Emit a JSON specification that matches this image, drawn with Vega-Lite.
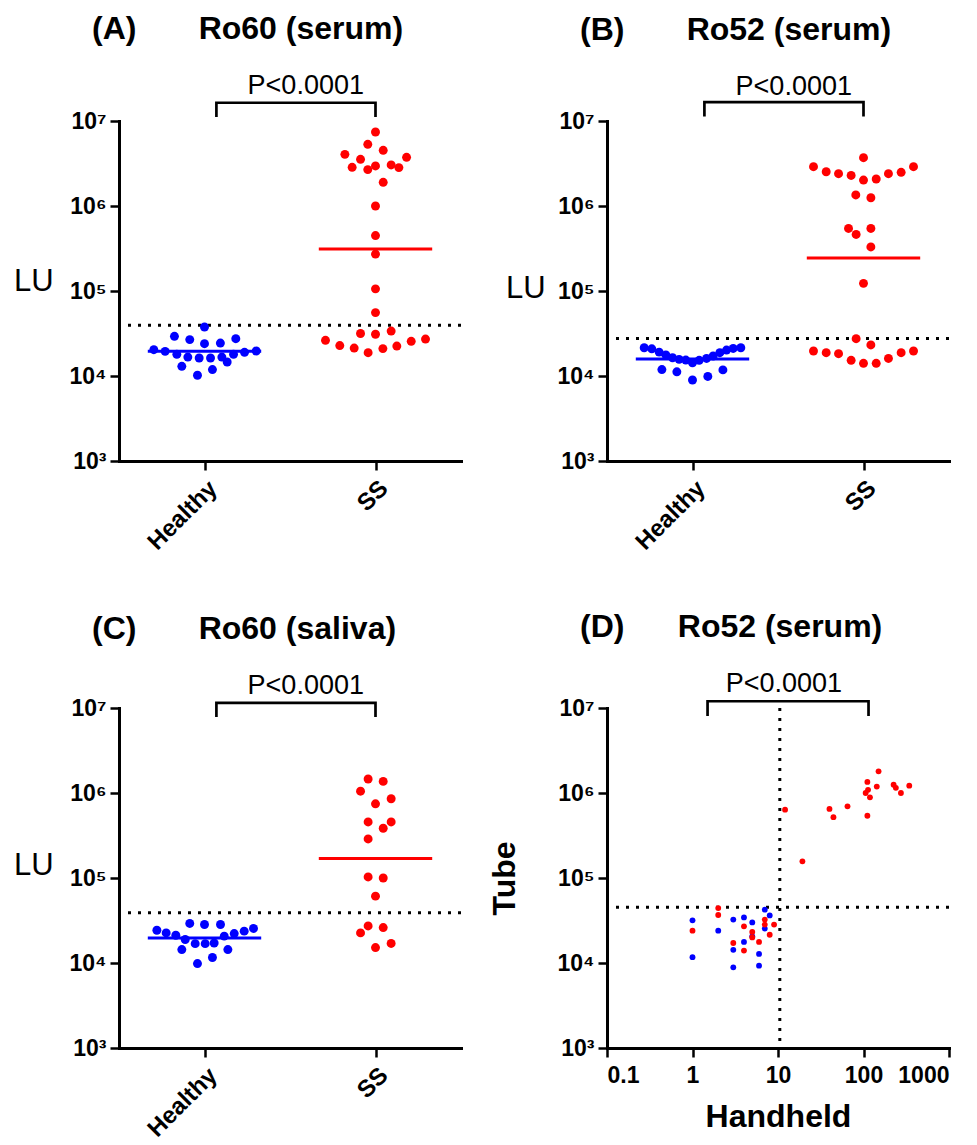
{
  "$schema": "https://vega.github.io/schema/vega-lite/v6.json",
  "padding": {"left": 13, "top": 13, "right": 5, "bottom": 5},
  "columns": 2,
  "spacing": {"row": 56, "column": 25},
  "datasets": {
    "dots": [
      {"p":"A","g":"Healthy","s":0,"v":37700},{"p":"A","g":"Healthy","s":-2.65,"v":29300},{"p":"A","g":"Healthy","s":-1.3,"v":26800},{"p":"A","g":"Healthy","s":0,"v":24000},{"p":"A","g":"Healthy","s":1.4,"v":24400},{"p":"A","g":"Healthy","s":2.76,"v":27500},{"p":"A","g":"Healthy","s":-4.47,"v":20400},{"p":"A","g":"Healthy","s":-3.47,"v":19500},{"p":"A","g":"Healthy","s":-2.44,"v":18000},{"p":"A","g":"Healthy","s":-1.47,"v":16700},{"p":"A","g":"Healthy","s":-0.47,"v":16300},{"p":"A","g":"Healthy","s":0.53,"v":16300},{"p":"A","g":"Healthy","s":1.53,"v":16700},{"p":"A","g":"Healthy","s":2.56,"v":18000},{"p":"A","g":"Healthy","s":3.53,"v":19000},{"p":"A","g":"Healthy","s":4.56,"v":19700},{"p":"A","g":"Healthy","s":-2,"v":13000},{"p":"A","g":"Healthy","s":0.7,"v":11900},{"p":"A","g":"Healthy","s":2,"v":14600},{"p":"A","g":"Healthy","s":-0.62,"v":10200},
      {"p":"A","g":"SS","s":0,"v":7430000},{"p":"A","g":"SS","s":-0.68,"v":5320000},{"p":"A","g":"SS","s":0.68,"v":4520000},{"p":"A","g":"SS","s":-2.7,"v":4050000},{"p":"A","g":"SS","s":-1.32,"v":3540000},{"p":"A","g":"SS","s":2.74,"v":3740000},{"p":"A","g":"SS","s":-2.06,"v":2850000},{"p":"A","g":"SS","s":0,"v":2960000},{"p":"A","g":"SS","s":-0.68,"v":2680000},{"p":"A","g":"SS","s":1.38,"v":3040000},{"p":"A","g":"SS","s":2.06,"v":2830000},{"p":"A","g":"SS","s":0.68,"v":1900000},{"p":"A","g":"SS","s":0,"v":1000000},{"p":"A","g":"SS","s":0,"v":449000},{"p":"A","g":"SS","s":0,"v":272000},{"p":"A","g":"SS","s":0,"v":106000},{"p":"A","g":"SS","s":0,"v":55700},{"p":"A","g":"SS","s":-1.32,"v":31600},{"p":"A","g":"SS","s":0,"v":31000},{"p":"A","g":"SS","s":1.38,"v":33800},{"p":"A","g":"SS","s":-4.41,"v":26300},{"p":"A","g":"SS","s":-3.15,"v":22800},{"p":"A","g":"SS","s":-1.88,"v":21300},{"p":"A","g":"SS","s":-0.65,"v":18800},{"p":"A","g":"SS","s":0.65,"v":21000},{"p":"A","g":"SS","s":1.88,"v":22500},{"p":"A","g":"SS","s":3.15,"v":25600},{"p":"A","g":"SS","s":4.41,"v":27200},
      {"p":"B","g":"Healthy","s":-4.26,"v":21500},{"p":"B","g":"Healthy","s":-3.59,"v":20900},{"p":"B","g":"Healthy","s":-2.94,"v":19100},{"p":"B","g":"Healthy","s":-2.35,"v":17700},{"p":"B","g":"Healthy","s":-1.76,"v":16400},{"p":"B","g":"Healthy","s":-1.18,"v":15700},{"p":"B","g":"Healthy","s":-0.59,"v":15400},{"p":"B","g":"Healthy","s":0,"v":14300},{"p":"B","g":"Healthy","s":0.59,"v":15300},{"p":"B","g":"Healthy","s":1.24,"v":16100},{"p":"B","g":"Healthy","s":1.82,"v":17200},{"p":"B","g":"Healthy","s":2.41,"v":18800},{"p":"B","g":"Healthy","s":3.0,"v":20200},{"p":"B","g":"Healthy","s":3.59,"v":21100},{"p":"B","g":"Healthy","s":4.26,"v":21500},{"p":"B","g":"Healthy","s":-2.7,"v":11900},{"p":"B","g":"Healthy","s":-1.38,"v":11200},{"p":"B","g":"Healthy","s":0,"v":8970},{"p":"B","g":"Healthy","s":1.35,"v":9890},{"p":"B","g":"Healthy","s":2.68,"v":11800},
      {"p":"B","g":"SS","s":0,"v":3700000},{"p":"B","g":"SS","s":-4.41,"v":2900000},{"p":"B","g":"SS","s":-3.29,"v":2530000},{"p":"B","g":"SS","s":-2.2,"v":2400000},{"p":"B","g":"SS","s":-1.09,"v":2290000},{"p":"B","g":"SS","s":0,"v":2020000},{"p":"B","g":"SS","s":1.12,"v":2080000},{"p":"B","g":"SS","s":2.2,"v":2400000},{"p":"B","g":"SS","s":3.32,"v":2490000},{"p":"B","g":"SS","s":4.41,"v":2900000},{"p":"B","g":"SS","s":-0.68,"v":1350000},{"p":"B","g":"SS","s":0.65,"v":1250000},{"p":"B","g":"SS","s":-1.32,"v":545000},{"p":"B","g":"SS","s":-0.65,"v":463000},{"p":"B","g":"SS","s":0.65,"v":545000},{"p":"B","g":"SS","s":0.65,"v":330000},{"p":"B","g":"SS","s":0,"v":123000},{"p":"B","g":"SS","s":-0.65,"v":27500},{"p":"B","g":"SS","s":0.65,"v":23200},{"p":"B","g":"SS","s":-4.41,"v":19700},{"p":"B","g":"SS","s":-3.29,"v":18800},{"p":"B","g":"SS","s":-2.2,"v":18300},{"p":"B","g":"SS","s":-1.09,"v":15300},{"p":"B","g":"SS","s":0,"v":14100},{"p":"B","g":"SS","s":1.12,"v":14100},{"p":"B","g":"SS","s":2.2,"v":16100},{"p":"B","g":"SS","s":3.32,"v":18800},{"p":"B","g":"SS","s":4.41,"v":19700},
      {"p":"C","g":"Healthy","s":-4.2,"v":24300},{"p":"C","g":"Healthy","s":-3.38,"v":22600},{"p":"C","g":"Healthy","s":-2.53,"v":21200},{"p":"C","g":"Healthy","s":-1.7,"v":18900},{"p":"C","g":"Healthy","s":-0.82,"v":16900},{"p":"C","g":"Healthy","s":0.06,"v":16900},{"p":"C","g":"Healthy","s":0.85,"v":17200},{"p":"C","g":"Healthy","s":1.74,"v":20700},{"p":"C","g":"Healthy","s":2.62,"v":22200},{"p":"C","g":"Healthy","s":3.5,"v":23700},{"p":"C","g":"Healthy","s":4.32,"v":25500},{"p":"C","g":"Healthy","s":-1.3,"v":29200},{"p":"C","g":"Healthy","s":0,"v":28400},{"p":"C","g":"Healthy","s":1.41,"v":28400},{"p":"C","g":"Healthy","s":-2,"v":14400},{"p":"C","g":"Healthy","s":2.06,"v":14400},{"p":"C","g":"Healthy","s":0.7,"v":11600},{"p":"C","g":"Healthy","s":-0.62,"v":9840},
      {"p":"C","g":"SS","s":-0.65,"v":1460000},{"p":"C","g":"SS","s":0.68,"v":1370000},{"p":"C","g":"SS","s":-1.32,"v":1050000},{"p":"C","g":"SS","s":1.38,"v":855000},{"p":"C","g":"SS","s":0,"v":746000},{"p":"C","g":"SS","s":-0.65,"v":457000},{"p":"C","g":"SS","s":1.38,"v":457000},{"p":"C","g":"SS","s":0.68,"v":385000},{"p":"C","g":"SS","s":-0.65,"v":288000},{"p":"C","g":"SS","s":-0.65,"v":103000},{"p":"C","g":"SS","s":0.68,"v":100000},{"p":"C","g":"SS","s":0,"v":61200},{"p":"C","g":"SS","s":-0.65,"v":27300},{"p":"C","g":"SS","s":0.68,"v":26100},{"p":"C","g":"SS","s":-1.32,"v":22600},{"p":"C","g":"SS","s":1.38,"v":17000},{"p":"C","g":"SS","s":0,"v":15200}
    ],
    "medians": [
      {"p":"A","g":"Healthy","s":-5,"v":19500},{"p":"A","g":"Healthy","s":5,"v":19500},{"p":"A","g":"SS","s":-5,"v":312000},{"p":"A","g":"SS","s":5,"v":312000},
      {"p":"B","g":"Healthy","s":-5,"v":15800},{"p":"B","g":"Healthy","s":5,"v":15800},{"p":"B","g":"SS","s":-5,"v":245000},{"p":"B","g":"SS","s":5,"v":245000},
      {"p":"C","g":"Healthy","s":-5,"v":19700},{"p":"C","g":"Healthy","s":5,"v":19700},{"p":"C","g":"SS","s":-5,"v":170000},{"p":"C","g":"SS","s":5,"v":170000}
    ],
    "cuts": [{"p":"A","v":39500},{"p":"B","v":27700},{"p":"C","v":38900},{"p":"D","v":45400}],
    "brackets": [
      {"p":"A","g":"Healthy","s":1.05,"v":11140000,"k":0},{"p":"A","g":"Healthy","s":1.05,"v":16400000,"k":1},{"p":"A","g":"SS","s":0,"v":16400000,"k":2},{"p":"A","g":"SS","s":0,"v":11140000,"k":3},
      {"p":"B","g":"Healthy","s":1.05,"v":11260000,"k":0},{"p":"B","g":"Healthy","s":1.05,"v":16700000,"k":1},{"p":"B","g":"SS","s":0,"v":16700000,"k":2},{"p":"B","g":"SS","s":0,"v":11260000,"k":3},
      {"p":"C","g":"Healthy","s":1.05,"v":7830000,"k":0},{"p":"C","g":"Healthy","s":1.05,"v":11460000,"k":1},{"p":"C","g":"SS","s":0,"v":11460000,"k":2},{"p":"C","g":"SS","s":0,"v":7830000,"k":3}
    ],
    "pvals": [
      {"p":"A","g":"SS","s":-6.15,"v":20600000,"t":"P<0.0001"},
      {"p":"B","g":"SS","s":-6.15,"v":20500000,"t":"P<0.0001"},
      {"p":"C","g":"SS","s":-6.15,"v":14750000,"t":"P<0.0001"}
    ],
    "scatter": [
      {"g":"Healthy","h":1,"t":31800},{"g":"Healthy","h":1,"t":11700},{"g":"Healthy","h":2,"t":24000},{"g":"Healthy","h":3,"t":32400},{"g":"Healthy","h":3,"t":14300},{"g":"Healthy","h":3,"t":8900},{"g":"Healthy","h":4,"t":34400},{"g":"Healthy","h":4,"t":17700},{"g":"Healthy","h":5,"t":30000},{"g":"Healthy","h":5,"t":20600},{"g":"Healthy","h":6,"t":12800},{"g":"Healthy","h":6,"t":9300},{"g":"Healthy","h":7,"t":42400},{"g":"Healthy","h":8,"t":36300},{"g":"Healthy","h":7,"t":25400},
      {"g":"SS","h":150,"t":1800000},{"g":"SS","h":111,"t":1350000},{"g":"SS","h":143,"t":1190000},{"g":"SS","h":225,"t":1250000},{"g":"SS","h":239,"t":1150000},{"g":"SS","h":343,"t":1220000},{"g":"SS","h":274,"t":1000000},{"g":"SS","h":106,"t":1000000},{"g":"SS","h":113,"t":1090000},{"g":"SS","h":119,"t":890000},{"g":"SS","h":111,"t":540000},{"g":"SS","h":65,"t":697000},{"g":"SS","h":40,"t":650000},{"g":"SS","h":44.5,"t":520000},{"g":"SS","h":12.1,"t":637000},{"g":"SS","h":19.3,"t":157000},{"g":"SS","h":2,"t":44300},{"g":"SS","h":2,"t":36700},{"g":"SS","h":1,"t":24000},{"g":"SS","h":4,"t":27000},{"g":"SS","h":3,"t":17200},{"g":"SS","h":4,"t":14000},{"g":"SS","h":5,"t":23200},{"g":"SS","h":5,"t":20000},{"g":"SS","h":6,"t":17700},{"g":"SS","h":7,"t":32400},{"g":"SS","h":7,"t":28300},{"g":"SS","h":9,"t":28300},{"g":"SS","h":8,"t":21500}
    ],
    "dvcut": [{"h":10.5}],
    "dbracket": [{"h":1.5,"t":8050000,"k":0},{"h":1.5,"t":12000000,"k":1},{"h":114.5,"t":12000000,"k":2},{"h":114.5,"t":8050000,"k":3}],
    "dp": [{"h":11.7,"t":15400000,"label":"P<0.0001"}]
  },
  "concat": [
    {
      "width": 342, "height": 340,
      "title": {"text": "(A)\u00a0\u00a0\u00a0\u00a0\u00a0\u00a0\u00a0Ro60 (serum)"},
      "layer": [
        {"data":{"name":"cuts"},"transform":[{"filter":"datum.p=='A'"}],"mark":{"type":"rule","strokeDash":[3,7],"strokeWidth":3,"color":"black"},
         "encoding":{"y":{"field":"v","type":"quantitative","scale":{"type":"log","domain":[1000,10000000],"nice":false},"axis":{"values":[1000,10000,100000,1000000,10000000],"labelExpr":"datum.value==10000000?'10⁷':datum.value==1000000?'10⁶':datum.value==100000?'10⁵':datum.value==10000?'10⁴':'10³'","title":"LU","titleAngle":0,"titleAlign":"right","titleBaseline":"middle","titleFontWeight":"normal","titleFontSize":31,"titlePadding":16,"titleY":160}}}},
        {"data":{"name":"dots"},"transform":[{"filter":"datum.p=='A'"}],"mark":{"type":"circle","size":80,"opacity":1},
         "encoding":{"x":{"field":"g","type":"nominal","scale":{"type":"point","padding":0.5,"domain":["Healthy","SS"]},"axis":{"title":null,"labelAngle":-45,"labelFontSize":24,"labelPadding":6}},
          "xOffset":{"field":"s","type":"quantitative","scale":{"domain":[-10,10],"range":[-113.4,113.4]}},
          "y":{"field":"v","type":"quantitative","scale":{"type":"log","domain":[1000,10000000],"nice":false}},
          "color":{"field":"g","type":"nominal","scale":{"domain":["Healthy","SS"],"range":["#0000ff","#ff0000"]},"legend":null}}},
        {"data":{"name":"medians"},"transform":[{"filter":"datum.p=='A'"}],"mark":{"type":"line","strokeWidth":3,"strokeCap":"butt"},
         "encoding":{"x":{"field":"g","type":"nominal","scale":{"type":"point","padding":0.5,"domain":["Healthy","SS"]}},
          "xOffset":{"field":"s","type":"quantitative","scale":{"domain":[-10,10],"range":[-113.4,113.4]}},
          "y":{"field":"v","type":"quantitative","scale":{"type":"log","domain":[1000,10000000],"nice":false}},
          "color":{"field":"g","type":"nominal","scale":{"domain":["Healthy","SS"],"range":["#0000ff","#ff0000"]},"legend":null}}},
        {"data":{"name":"brackets"},"transform":[{"filter":"datum.p=='A'"}],"mark":{"type":"line","strokeWidth":2.7,"color":"black","strokeCap":"butt","strokeJoin":"miter"},
         "encoding":{"x":{"field":"g","type":"nominal","scale":{"type":"point","padding":0.5,"domain":["Healthy","SS"]}},
          "xOffset":{"field":"s","type":"quantitative","scale":{"domain":[-10,10],"range":[-113.4,113.4]}},
          "y":{"field":"v","type":"quantitative","scale":{"type":"log","domain":[1000,10000000],"nice":false}},
          "order":{"field":"k","type":"quantitative"}}},
        {"data":{"name":"pvals"},"transform":[{"filter":"datum.p=='A'"}],"mark":{"type":"text","fontSize":27,"font":"Liberation Sans","align":"center","baseline":"alphabetic","color":"black"},
         "encoding":{"x":{"field":"g","type":"nominal","scale":{"type":"point","padding":0.5,"domain":["Healthy","SS"]}},
          "xOffset":{"field":"s","type":"quantitative","scale":{"domain":[-10,10],"range":[-113.4,113.4]}},
          "y":{"field":"v","type":"quantitative","scale":{"type":"log","domain":[1000,10000000],"nice":false}},
          "text":{"field":"t"}}}
      ]
    },
    {
      "width": 342, "height": 340,
      "title": {"text": "(B)\u00a0\u00a0\u00a0\u00a0\u00a0\u00a0\u00a0Ro52 (serum)"},
      "layer": [
        {"data":{"name":"cuts"},"transform":[{"filter":"datum.p=='B'"}],"mark":{"type":"rule","strokeDash":[3,7],"strokeWidth":3,"color":"black"},
         "encoding":{"y":{"field":"v","type":"quantitative","scale":{"type":"log","domain":[1000,10000000],"nice":false},"axis":{"values":[1000,10000,100000,1000000,10000000],"labelExpr":"datum.value==10000000?'10⁷':datum.value==1000000?'10⁶':datum.value==100000?'10⁵':datum.value==10000?'10⁴':'10³'","title":"LU","titleAngle":0,"titleAlign":"right","titleBaseline":"middle","titleFontWeight":"normal","titleFontSize":31,"titlePadding":12,"titleY":167}}}},
        {"data":{"name":"dots"},"transform":[{"filter":"datum.p=='B'"}],"mark":{"type":"circle","size":80,"opacity":1},
         "encoding":{"x":{"field":"g","type":"nominal","scale":{"type":"point","padding":0.5,"domain":["Healthy","SS"]},"axis":{"title":null,"labelAngle":-45,"labelFontSize":24,"labelPadding":6}},
          "xOffset":{"field":"s","type":"quantitative","scale":{"domain":[-10,10],"range":[-113.4,113.4]}},
          "y":{"field":"v","type":"quantitative","scale":{"type":"log","domain":[1000,10000000],"nice":false}},
          "color":{"field":"g","type":"nominal","scale":{"domain":["Healthy","SS"],"range":["#0000ff","#ff0000"]},"legend":null}}},
        {"data":{"name":"medians"},"transform":[{"filter":"datum.p=='B'"}],"mark":{"type":"line","strokeWidth":3,"strokeCap":"butt"},
         "encoding":{"x":{"field":"g","type":"nominal","scale":{"type":"point","padding":0.5,"domain":["Healthy","SS"]}},
          "xOffset":{"field":"s","type":"quantitative","scale":{"domain":[-10,10],"range":[-113.4,113.4]}},
          "y":{"field":"v","type":"quantitative","scale":{"type":"log","domain":[1000,10000000],"nice":false}},
          "color":{"field":"g","type":"nominal","scale":{"domain":["Healthy","SS"],"range":["#0000ff","#f04848"]},"legend":null}}},
        {"data":{"name":"brackets"},"transform":[{"filter":"datum.p=='B'"}],"mark":{"type":"line","strokeWidth":2.7,"color":"black","strokeCap":"butt","strokeJoin":"miter"},
         "encoding":{"x":{"field":"g","type":"nominal","scale":{"type":"point","padding":0.5,"domain":["Healthy","SS"]}},
          "xOffset":{"field":"s","type":"quantitative","scale":{"domain":[-10,10],"range":[-113.4,113.4]}},
          "y":{"field":"v","type":"quantitative","scale":{"type":"log","domain":[1000,10000000],"nice":false}},
          "order":{"field":"k","type":"quantitative"}}},
        {"data":{"name":"pvals"},"transform":[{"filter":"datum.p=='B'"}],"mark":{"type":"text","fontSize":27,"font":"Liberation Sans","align":"center","baseline":"alphabetic","color":"black"},
         "encoding":{"x":{"field":"g","type":"nominal","scale":{"type":"point","padding":0.5,"domain":["Healthy","SS"]}},
          "xOffset":{"field":"s","type":"quantitative","scale":{"domain":[-10,10],"range":[-113.4,113.4]}},
          "y":{"field":"v","type":"quantitative","scale":{"type":"log","domain":[1000,10000000],"nice":false}},
          "text":{"field":"t"}}}
      ]
    },
    {
      "width": 342, "height": 340,
      "title": {"text": "(C)\u00a0\u00a0\u00a0\u00a0\u00a0\u00a0\u00a0Ro60 (saliva)"},
      "layer": [
        {"data":{"name":"cuts"},"transform":[{"filter":"datum.p=='C'"}],"mark":{"type":"rule","strokeDash":[3,7],"strokeWidth":3,"color":"black"},
         "encoding":{"y":{"field":"v","type":"quantitative","scale":{"type":"log","domain":[1000,10000000],"nice":false},"axis":{"values":[1000,10000,100000,1000000,10000000],"labelExpr":"datum.value==10000000?'10⁷':datum.value==1000000?'10⁶':datum.value==100000?'10⁵':datum.value==10000?'10⁴':'10³'","title":"LU","titleAngle":0,"titleAlign":"right","titleBaseline":"middle","titleFontWeight":"normal","titleFontSize":31,"titlePadding":16,"titleY":157}}}},
        {"data":{"name":"dots"},"transform":[{"filter":"datum.p=='C'"}],"mark":{"type":"circle","size":80,"opacity":1},
         "encoding":{"x":{"field":"g","type":"nominal","scale":{"type":"point","padding":0.5,"domain":["Healthy","SS"]},"axis":{"title":null,"labelAngle":-45,"labelFontSize":24,"labelPadding":6}},
          "xOffset":{"field":"s","type":"quantitative","scale":{"domain":[-10,10],"range":[-113.4,113.4]}},
          "y":{"field":"v","type":"quantitative","scale":{"type":"log","domain":[1000,10000000],"nice":false}},
          "color":{"field":"g","type":"nominal","scale":{"domain":["Healthy","SS"],"range":["#0000ff","#ff0000"]},"legend":null}}},
        {"data":{"name":"medians"},"transform":[{"filter":"datum.p=='C'"}],"mark":{"type":"line","strokeWidth":3,"strokeCap":"butt"},
         "encoding":{"x":{"field":"g","type":"nominal","scale":{"type":"point","padding":0.5,"domain":["Healthy","SS"]}},
          "xOffset":{"field":"s","type":"quantitative","scale":{"domain":[-10,10],"range":[-113.4,113.4]}},
          "y":{"field":"v","type":"quantitative","scale":{"type":"log","domain":[1000,10000000],"nice":false}},
          "color":{"field":"g","type":"nominal","scale":{"domain":["Healthy","SS"],"range":["#0000ff","#ff0000"]},"legend":null}}},
        {"data":{"name":"brackets"},"transform":[{"filter":"datum.p=='C'"}],"mark":{"type":"line","strokeWidth":2.7,"color":"black","strokeCap":"butt","strokeJoin":"miter"},
         "encoding":{"x":{"field":"g","type":"nominal","scale":{"type":"point","padding":0.5,"domain":["Healthy","SS"]}},
          "xOffset":{"field":"s","type":"quantitative","scale":{"domain":[-10,10],"range":[-113.4,113.4]}},
          "y":{"field":"v","type":"quantitative","scale":{"type":"log","domain":[1000,10000000],"nice":false}},
          "order":{"field":"k","type":"quantitative"}}},
        {"data":{"name":"pvals"},"transform":[{"filter":"datum.p=='C'"}],"mark":{"type":"text","fontSize":27,"font":"Liberation Sans","align":"center","baseline":"alphabetic","color":"black"},
         "encoding":{"x":{"field":"g","type":"nominal","scale":{"type":"point","padding":0.5,"domain":["Healthy","SS"]}},
          "xOffset":{"field":"s","type":"quantitative","scale":{"domain":[-10,10],"range":[-113.4,113.4]}},
          "y":{"field":"v","type":"quantitative","scale":{"type":"log","domain":[1000,10000000],"nice":false}},
          "text":{"field":"t"}}}
      ]
    },
    {
      "width": 342, "height": 340,
      "title": {"text": "(D)\u00a0\u00a0\u00a0\u00a0\u00a0\u00a0Ro52 (serum)"},
      "layer": [
        {"data":{"name":"cuts"},"transform":[{"filter":"datum.p=='D'"}],"mark":{"type":"rule","strokeDash":[3,7],"strokeWidth":3,"color":"black"},
         "encoding":{"y":{"field":"v","type":"quantitative","scale":{"type":"log","domain":[1000,10000000],"nice":false},"axis":{"values":[1000,10000,100000,1000000,10000000],"labelExpr":"datum.value==10000000?'10⁷':datum.value==1000000?'10⁶':datum.value==100000?'10⁵':datum.value==10000?'10⁴':'10³'","title":"Tube","titleFontSize":32,"titlePadding":36}}}},
        {"data":{"name":"dvcut"},"mark":{"type":"rule","strokeDash":[3,7],"strokeWidth":3,"color":"black"},
         "encoding":{"x":{"field":"h","type":"quantitative","scale":{"type":"log","domain":[0.1,1000],"nice":false},"axis":{"values":[0.1,1,10,100,1000],"format":"~g","title":"Handheld","titleFontSize":32,"titlePadding":14,"labelAngle":0,"labelPadding":7}}}},
        {"data":{"name":"scatter"},"mark":{"type":"circle","size":34,"opacity":1},
         "encoding":{"x":{"field":"h","type":"quantitative","scale":{"type":"log","domain":[0.1,1000],"nice":false}},
          "y":{"field":"t","type":"quantitative","scale":{"type":"log","domain":[1000,10000000],"nice":false}},
          "color":{"field":"g","type":"nominal","scale":{"domain":["Healthy","SS"],"range":["#4040ff","#ff0000"]},"legend":null}}},
        {"data":{"name":"dbracket"},"mark":{"type":"line","strokeWidth":2.7,"color":"black","strokeCap":"butt","strokeJoin":"miter"},
         "encoding":{"x":{"field":"h","type":"quantitative","scale":{"type":"log","domain":[0.1,1000],"nice":false}},
          "y":{"field":"t","type":"quantitative","scale":{"type":"log","domain":[1000,10000000],"nice":false}},
          "order":{"field":"k","type":"quantitative"}}},
        {"data":{"name":"dp"},"mark":{"type":"text","fontSize":27,"font":"Liberation Sans","align":"center","baseline":"alphabetic","color":"black"},
         "encoding":{"x":{"field":"h","type":"quantitative","scale":{"type":"log","domain":[0.1,1000],"nice":false}},
          "y":{"field":"t","type":"quantitative","scale":{"type":"log","domain":[1000,10000000],"nice":false}},
          "text":{"field":"label"}}}
      ]
    }
  ],
  "config": {
    "view": {"stroke": null},
    "font": "Liberation Sans",
    "axis": {"domainColor":"black","domainWidth":3,"domainCap":"square","tickColor":"black","tickWidth":2.5,"tickSize":9,"labelColor":"black","labelFont":"Liberation Sans","labelFontWeight":"bold","labelFontSize":23,"labelPadding":4,"titleColor":"black","titleFont":"Liberation Sans","titleFontWeight":"bold","grid":false},
    "title": {"font":"Liberation Sans","fontSize":32,"fontWeight":"bold","color":"black","anchor":"start","frame":"group","dx":-27,"offset":26}
  }
}
